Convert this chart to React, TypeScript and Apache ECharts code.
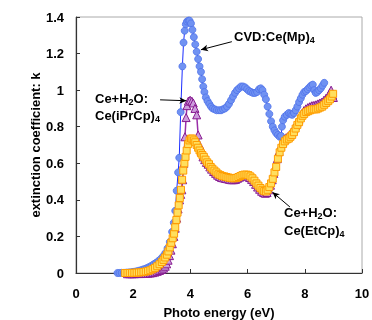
import React, { useEffect, useRef } from "react";
import * as echarts from "echarts";

// CVD:Ce(Mp)4
const cvdE = [1.45,1.52,1.60,1.68,1.76,1.84,1.92,2.00,2.08,2.16,2.24,2.32,2.40,2.48,2.56,2.64,2.72,2.80,2.88,2.96,3.04,3.12,3.20,3.28,3.36,3.42,3.47,3.52,3.57,3.61,3.66,3.72,3.76,3.80,3.84,3.88,3.93,3.97,4.02,4.07,4.12,4.17,4.22,4.27,4.32,4.37,4.41,4.45,4.49,4.54,4.60,4.66,4.72,4.78,4.85,4.92,5.00,5.07,5.14,5.21,5.28,5.35,5.42,5.49,5.56,5.63,5.70,5.77,5.84,5.91,5.98,6.05,6.12,6.19,6.26,6.33,6.40,6.46,6.52,6.58,6.64,6.70,6.76,6.82,6.88,6.94,7.00,7.06,7.12,7.17,7.20,7.24,7.30,7.37,7.44,7.50,7.56,7.62,7.68,7.74,7.80,7.86,7.92,7.98,8.04,8.10,8.16,8.22,8.28,8.33,8.38,8.44,8.50,8.56,8.62,8.68];
const cvdK = [0.000,0.000,0.001,0.001,0.002,0.003,0.004,0.006,0.008,0.011,0.014,0.018,0.022,0.027,0.033,0.040,0.048,0.056,0.065,0.076,0.090,0.108,0.135,0.170,0.225,0.275,0.34,0.45,0.55,0.63,0.88,1.13,1.26,1.325,1.36,1.375,1.38,1.38,1.365,1.33,1.29,1.25,1.21,1.17,1.13,1.10,1.06,1.02,0.99,0.96,0.94,0.925,0.91,0.90,0.895,0.89,0.89,0.89,0.895,0.90,0.91,0.925,0.945,0.965,0.985,1.00,1.01,1.02,1.02,1.015,1.005,0.995,0.99,0.985,0.985,0.99,1.005,1.01,1.00,0.975,0.95,0.91,0.87,0.83,0.80,0.78,0.765,0.755,0.745,0.75,0.80,0.835,0.855,0.865,0.875,0.87,0.865,0.875,0.89,0.91,0.935,0.955,0.975,0.99,0.995,1.005,1.015,1.025,1.03,1.00,0.985,0.99,1.00,1.01,1.025,1.04];

// Ce+H2O: Ce(iPrCp)4
const iprE = [1.80,1.88,1.96,2.04,2.12,2.20,2.28,2.36,2.44,2.52,2.60,2.68,2.76,2.84,2.92,3.00,3.06,3.12,3.17,3.22,3.27,3.32,3.37,3.42,3.47,3.52,3.57,3.62,3.66,3.70,3.73,3.77,3.81,3.85,3.88,3.93,3.99,4.05,4.10,4.16,4.22,4.27,4.32,4.38,4.44,4.50,4.56,4.62,4.68,4.74,4.81,4.88,4.95,5.02,5.09,5.16,5.23,5.30,5.37,5.44,5.51,5.58,5.65,5.72,5.79,5.86,5.93,6.00,6.07,6.14,6.21,6.28,6.35,6.42,6.49,6.56,6.62,6.68,6.74,6.80,6.86,6.92,6.98,7.04,7.10,7.16,7.22,7.28,7.35,7.42,7.49,7.55,7.61,7.67,7.73,7.79,7.85,7.91,7.97,8.04,8.11,8.18,8.25,8.32,8.39,8.46,8.53,8.60,8.67,8.74,8.81,8.87,8.92,8.97,9.00];
const iprK = [-0.004,-0.004,-0.004,-0.004,-0.003,-0.003,-0.003,-0.002,-0.002,-0.001,0.000,0.002,0.005,0.009,0.014,0.020,0.027,0.037,0.050,0.070,0.095,0.125,0.16,0.20,0.245,0.30,0.35,0.40,0.43,0.455,0.51,0.60,0.745,0.85,0.915,0.94,0.945,0.94,0.93,0.90,0.865,0.755,0.70,0.665,0.635,0.62,0.605,0.595,0.58,0.568,0.555,0.545,0.535,0.528,0.522,0.52,0.517,0.515,0.512,0.51,0.51,0.512,0.518,0.524,0.53,0.533,0.533,0.53,0.522,0.512,0.50,0.485,0.47,0.458,0.447,0.44,0.436,0.44,0.455,0.48,0.51,0.545,0.585,0.625,0.665,0.695,0.715,0.73,0.74,0.748,0.76,0.772,0.787,0.805,0.825,0.84,0.86,0.875,0.888,0.898,0.905,0.91,0.915,0.917,0.92,0.925,0.93,0.935,0.945,0.955,0.965,0.985,1.00,0.975,0.96];

// Ce+H2O: Ce(EtCp)4
const etcpE = [1.72,1.80,1.88,1.96,2.04,2.12,2.20,2.28,2.36,2.44,2.52,2.60,2.68,2.76,2.84,2.92,3.00,3.06,3.12,3.18,3.23,3.28,3.33,3.38,3.43,3.47,3.51,3.55,3.59,3.63,3.67,3.71,3.75,3.79,3.83,3.87,3.92,3.97,4.02,4.07,4.12,4.17,4.22,4.27,4.32,4.37,4.42,4.47,4.53,4.59,4.65,4.71,4.77,4.84,4.91,4.98,5.05,5.12,5.19,5.26,5.33,5.40,5.47,5.54,5.61,5.68,5.75,5.82,5.89,5.96,6.03,6.10,6.17,6.24,6.31,6.38,6.45,6.52,6.58,6.64,6.70,6.76,6.82,6.88,6.94,7.00,7.06,7.12,7.18,7.24,7.30,7.37,7.44,7.50,7.56,7.62,7.68,7.74,7.80,7.86,7.92,7.98,8.05,8.12,8.19,8.26,8.33,8.40,8.47,8.54,8.61,8.68,8.75,8.82,8.88,8.94,8.99];
const etcpK = [0.000,0.000,0.000,0.001,0.001,0.002,0.003,0.004,0.006,0.008,0.011,0.015,0.021,0.028,0.037,0.048,0.060,0.072,0.085,0.100,0.118,0.140,0.165,0.19,0.215,0.25,0.29,0.33,0.37,0.41,0.455,0.51,0.56,0.60,0.635,0.67,0.705,0.725,0.735,0.735,0.725,0.715,0.70,0.685,0.67,0.655,0.645,0.635,0.62,0.605,0.595,0.58,0.57,0.56,0.55,0.54,0.535,0.53,0.528,0.525,0.522,0.52,0.518,0.518,0.52,0.525,0.53,0.535,0.538,0.538,0.535,0.528,0.518,0.505,0.49,0.478,0.465,0.455,0.448,0.446,0.455,0.47,0.49,0.515,0.55,0.58,0.625,0.66,0.685,0.705,0.72,0.73,0.735,0.745,0.755,0.77,0.79,0.81,0.825,0.845,0.86,0.87,0.88,0.885,0.89,0.895,0.895,0.895,0.90,0.905,0.91,0.92,0.93,0.94,0.95,0.965,0.98];

const xTicks = { min: 0, max: 10, interval: 2 };
const yTicks = { min: 0, max: 1.4, interval: 0.2 };

const FONT = "'Liberation Sans', Arial, sans-serif";

const zip = (xs: number[], ys: number[]) => xs.map((x, i) => [x, ys[i]]);

export default function App() {
  const ref = useRef<HTMLDivElement>(null);
  useEffect(() => {
    if (!ref.current) return;
    const chart = echarts.init(ref.current, null, { renderer: "svg" });
    const axisCommon = {
      axisLine: { show: true, onZero: false, lineStyle: { color: "#333", width: 1.2 } },
      axisTick: { show: true, inside: true, length: 4, lineStyle: { color: "#333" } },
      splitLine: { show: false },
      axisLabel: { color: "#000", fontSize: 13, fontWeight: "bold", fontFamily: FONT },
      nameLocation: "middle",
      nameMoveOverlap: false,
      nameTextStyle: { color: "#000", fontSize: 13, fontWeight: "bold", fontFamily: FONT },
    };
    const rich = {
      n: { fontSize: 13, fontWeight: "bold", fontFamily: FONT, color: "#000", lineHeight: 15 },
      s: { fontSize: 9, fontWeight: "bold", fontFamily: FONT, color: "#000", lineHeight: 9, verticalAlign: "bottom" },
    };
    const arrowLine = (a: number[], b: number[]) => [
      { coord: a, symbol: "none" },
      { coord: b, symbol: "arrow" },
    ];
    chart.setOption({
      animation: false,
      grid: { left: 76, right: 10, top: 17, bottom: 47, show: true, borderColor: "#aaa", borderWidth: 1, outerBoundsMode: "none" },
      xAxis: { type: "value", ...xTicks, name: "Photo energy (eV)", nameGap: 33, ...axisCommon, axisLabel: { ...axisCommon.axisLabel, margin: 14 } },
      yAxis: { type: "value", ...yTicks, name: "extinction coefficient: k", nameGap: 34, ...axisCommon, axisLabel: { ...axisCommon.axisLabel, margin: 12 } },
      series: [
        {
          type: "line", name: "CVD:Ce(Mp)4", data: zip(cvdE, cvdK), clip: false,
          symbol: "circle", symbolSize: 7,
          lineStyle: { color: "#1a2cff", width: 1 },
          itemStyle: { color: "#7092f2", borderColor: "#4f72ea", borderWidth: 0.8 },
          markLine: {
            silent: true, animation: false, symbolSize: [5, 7],
            lineStyle: { color: "#000", width: 1, type: "solid" },
            label: { show: false },
            data: [
              arrowLine([5.45, 1.265], [4.37, 1.221]),
              arrowLine([2.94, 0.947], [3.86, 0.942]),
              arrowLine([7.48, 0.361], [6.87, 0.442]),
            ],
          },
        },
        {
          type: "line", name: "Ce(iPrCp)4", data: zip(iprE, iprK), clip: false,
          symbol: "triangle", symbolSize: 8,
          lineStyle: { color: "#9a2ea8", width: 1.5 },
          itemStyle: { color: "#cc9cdc", borderColor: "#86198f", borderWidth: 1 },
        },
        {
          type: "line", name: "Ce(EtCp)4", data: zip(etcpE, etcpK), clip: false,
          symbol: "rect", symbolSize: 7,
          lineStyle: { color: "#ff9c00", width: 1 },
          itemStyle: { color: "#ffdf5e", borderColor: "#ff9d00", borderWidth: 1 },
        },
      ],
      graphic: [
        { type: "text", left: 234, top: 30, style: { text: "{n|CVD:Ce(Mp)}{s|4}", rich } },
        { type: "text", left: 95, top: 92, style: { text: "{n|Ce+H}{s|2}{n|O:}", rich } },
        { type: "text", left: 95, top: 109, style: { text: "{n|Ce(iPrCp)}{s|4}", rich } },
        { type: "text", left: 284, top: 206, style: { text: "{n|Ce+H}{s|2}{n|O:}", rich } },
        { type: "text", left: 284, top: 224, style: { text: "{n|Ce(EtCp)}{s|4}", rich } },
      ],
    });
    return () => chart.dispose();
  }, []);
  return <div ref={ref} style={{ position: "fixed", left: 0, top: 0, width: 372, height: 320 }} />;
}
